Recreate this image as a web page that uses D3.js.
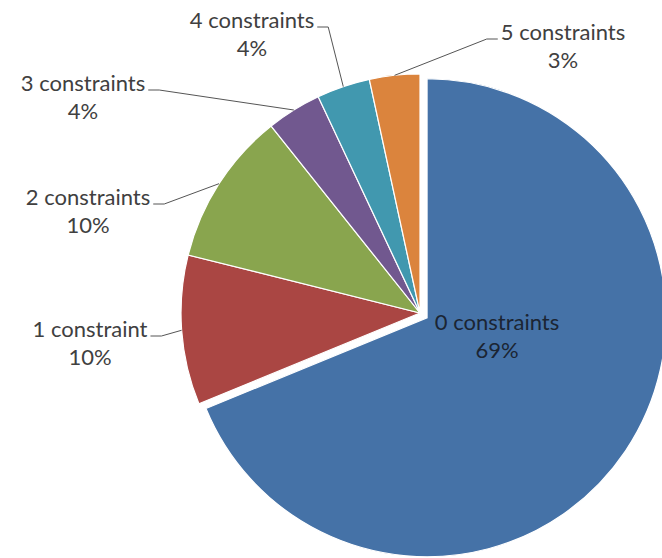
<!DOCTYPE html>
<html>
<head>
<meta charset="utf-8">
<script src="https://cdn.jsdelivr.net/npm/d3@7"></script>
<style>
  body { margin: 0; background: #fff; }
  text { font-family: Lato, "Liberation Sans", sans-serif; }
</style>
</head>
<body>
<div id="piechart"></div>
<script>
// pie data
const categories = ["0 constraints", "1 constraint", "2 constraints", "3 constraints", "4 constraints", "5 constraints"];
const values = [68.8, 10.1, 10.4, 3.7, 3.6, 3.4];
const colors = ["#4572A7", "#AA4643", "#89A54E", "#71588F", "#4198AF", "#DB843D"];

// label anchor (center x, first baseline) and which side the leader leaves from
const labelPos = [[497, 330], [90, 337], [88, 205], [83, 91], [252, 28], [563, 40]];
const labelSide = ["none", "right", "right", "right", "right", "left"];

function pieBreakdown() {
    const width = 662;
    const height = 558;
    const cx = 420, cy = 313;
    const radius = 239;
    const explode = 8.5;

    const svg = d3.select("#piechart")
        .append("svg")
        .attr("width", width)
        .attr("height", height);

    const data = categories.map((c, i) => ({category: c, value: values[i], color: colors[i]}));
    const total = d3.sum(values);

    const pie = d3.pie()
        .value(d => d.value)
        .sort(null);

    const arc = d3.arc()
        .innerRadius(0)
        .outerRadius(radius);

    const arcs = pie(data);

    // Draw slices, first one pulled out
    const g = svg.append("g")
        .attr("transform", "translate(" + cx + "," + cy + ")");

    g.selectAll(".slice")
        .data(arcs)
        .enter().append("path")
        .attr("class", "slice")
        .attr("d", arc)
        .attr("fill", d => d.data.color)
        .attr("stroke", "#fff")
        .attr("stroke-width", 1.2)
        .attr("transform", (d, i) => {
            if (i !== 0) return null;
            const a = (d.startAngle + d.endAngle) / 2;
            return "translate(" + (explode * Math.sin(a)) + "," + (-explode * Math.cos(a)) + ")";
        });

    // Labels
    const fontSize = 22;
    arcs.forEach((d, i) => {
        const [lx, ly] = labelPos[i];
        const pct = Math.round(d.data.value / total * 100) + "%";
        const fill = i === 0 ? "#1b2533" : "#404040";

        const t1 = svg.append("text")
            .attr("x", lx)
            .attr("y", ly)
            .attr("text-anchor", "middle")
            .style("font-size", fontSize + "px")
            .attr("fill", fill)
            .text(d.data.category);

        svg.append("text")
            .attr("x", lx)
            .attr("y", ly + 28)
            .attr("text-anchor", "middle")
            .style("font-size", fontSize + "px")
            .attr("fill", fill)
            .text(pct);

        if (labelSide[i] === "none") return;

        // leader line to the outer edge at the slice's middle angle
        const w = t1.node().getComputedTextLength();
        const a = (d.startAngle + d.endAngle) / 2;
        const ex = cx + radius * Math.sin(a);
        const ey = cy - radius * Math.cos(a);
        let sx, hx;
        if (labelSide[i] === "right") {
            sx = lx + w / 2 + 3;
            hx = sx + 11;
        } else {
            sx = lx - w / 2 - 3;
            hx = sx - 11;
        }
        const sy = ly - 1;
        svg.append("path")
            .attr("d", "M" + sx + "," + sy + "L" + hx + "," + sy + "L" + ex + "," + ey)
            .attr("fill", "none")
            .attr("stroke", "#555")
            .attr("stroke-width", 1);
    });
}

pieBreakdown();
</script>
</body>
</html>
